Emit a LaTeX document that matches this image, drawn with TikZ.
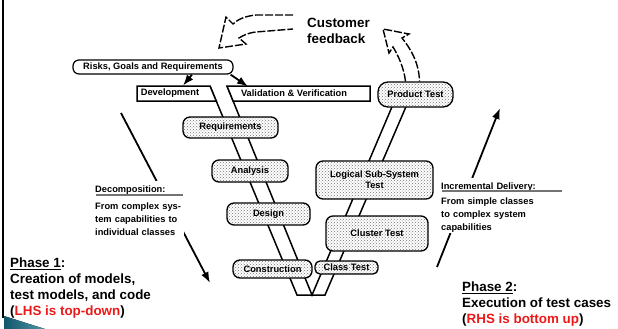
\documentclass[tikz,border=0pt]{standalone}
\usepackage{fontspec}
\setmainfont{Liberation Sans}
\usepackage{tikz}
\usetikzlibrary{arrows.meta,patterns}
\definecolor{slidered}{RGB}{235,25,25}
\definecolor{tealdark}{RGB}{18,86,108}
\definecolor{teallight}{RGB}{78,152,168}

\begin{document}
\begin{tikzpicture}[x=1pt,y=-1pt,
  small/.style={font=\bfseries\fontsize{9.3}{11}\selectfont},
  big/.style={font=\bfseries\fontsize{13.4}{16}\selectfont, align=left, inner sep=0pt, anchor=north west},
  stage/.style={small, draw, line width=1.3pt, rounded corners=7pt, preaction={fill=white}, pattern=crosshatch dots, pattern color=black!55, inner sep=1pt},
  strip/.style={line width=1.5pt, line join=miter},
  arr/.style={line width=1.8pt, -{Latex[length=11pt,width=8pt]}},
  fat/.style={line width=1.4pt, dash pattern=on 8pt off 2pt, line join=miter},
  rule/.style={draw=black!55, line width=1.2pt},
  note/.style={small, font=\bfseries\fontsize{9.3}{13}\selectfont, align=left, fill=white, inner sep=1pt, anchor=north west}]
\useasboundingbox (0,0) rectangle (618,329);

% slide edge
\draw[line width=2pt] (3,0) -- (3,318);
\fill[left color=tealdark, right color=teallight] (4,316) -- (45,329) -- (4,329) -- cycle;

% the V
\draw[strip] (210,86) -- (297,295) -- (325,295) -- (411,95);
\draw[strip] (227,86) -- (312,295) -- (397,95);
\draw[strip, fill=white] (137,86) -- (210,86) -- (216.2,101) -- (137,101) -- cycle;
\draw[strip, fill=white] (227,86) -- (370,86) -- (370,101) -- (233.1,101) -- cycle;
\node[small] (dev) at (170,93.5) {Development};
\node[small] (val) at (294,93.5) {Validation \& Verification};

\node[small, draw, fill=white, line width=1.2pt, rounded corners=6pt, minimum width=160pt, minimum height=14pt, inner sep=1pt] (risks) at (153,67) {Risks, Goals and Requirements};

\node[stage, minimum width=95pt, minimum height=21pt] (req) at (230.5,127.5) {Requirements};
\node[stage, minimum width=76pt, minimum height=22pt] (ana) at (250,171) {Analysis};
\node[stage, minimum width=83pt, minimum height=22pt] (des) at (268.5,214) {Design};
\node[stage, minimum width=79pt, minimum height=18pt] (con) at (272.5,269) {Construction};
\node[stage, minimum width=63pt, minimum height=13pt, rounded corners=5pt] (cls) at (346.5,267.5) {Class Test};
\node[stage, minimum width=102pt, minimum height=35pt] (clu) at (377,233.5) {Cluster Test};
\node[stage, minimum width=117pt, minimum height=38pt, align=center] (lss) at (374.5,180) {Logical Sub-System\\Test};
\node[stage, minimum width=75pt, minimum height=25pt, rounded corners=10pt] (prod) at (415.5,94.5) {Product Test};

\draw[arr] ([xshift=39pt]risks.south) -- ([xshift=13pt]dev.north);
\draw[arr] ([xshift=-3pt]risks.south east) -- ([xshift=-46pt]val.north);

% customer feedback
\node[big] (cust) at (307,17.5) {Customer\\feedback};
\draw[fat] ([xshift=-14pt,yshift=2.5pt]cust.north west) -- (256,15) .. controls (246,16) and (238,19) .. (233,24) -- (226,17) -- (219,48) -- (246,44) -- (239,38) .. controls (244,35) and (248,33) .. (256,32) -- ([xshift=-14pt,yshift=-11.5pt]cust.north west);
\draw[fat] ([xshift=-10pt]prod.north) .. controls (404,68) and (398,55) .. (393,47) -- (389,53) -- (383,29) -- (409,34) -- (402,38) .. controls (410,48) and (419,62) .. ([xshift=4pt]prod.north);

% left side
\coordinate (dstart) at (121,113);
\coordinate (dend) at (210,283);
\draw[arr] (dstart) -- (dend);
\node[note, text width=88pt] (decomp) at (94,181) {\rule{0pt}{10pt}Decomposition:\\[4pt]From complex sys-\\tem capabilities to\\individual classes};
\draw[rule] ([shift={(2pt,-14pt)}]decomp.north west) -- ++(87,0);

% right side
\coordinate (istart) at (437,267);
\coordinate (iend) at (500,108);
\draw[arr] (istart) -- (iend);
\node[note, text width=122pt] (incr) at (440,178) {\rule{0pt}{10pt}Incremental Delivery:\\[2pt]From simple classes\\to complex system\\capabilities};
\draw[rule] ([shift={(2pt,-13pt)}]incr.north west) -- ++(120,0);

\node[big] (ph1) at (10,257.5) {\underline{Phase 1}:\\Creation of models,\\test models, and code\\(\textcolor{slidered}{LHS is top-down})};
\node[big] (ph2) at (462,281.5) {\underline{Phase 2}:\\Execution of test cases\\(\textcolor{slidered}{RHS is bottom up})};
\end{tikzpicture}
\end{document}
